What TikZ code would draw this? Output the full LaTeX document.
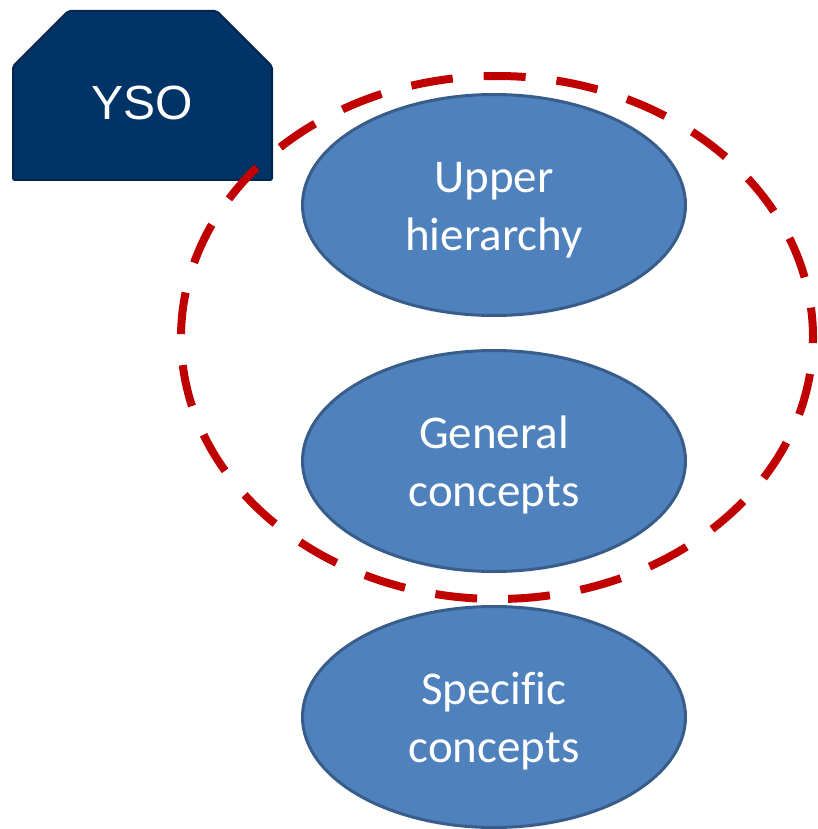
\documentclass[tikz,border=0pt]{standalone}
\usepackage{fontspec}
\setmainfont[Ligatures=NoCommon]{Carlito}
\newfontfamily\arialfont{Liberation Sans}
\usetikzlibrary{shapes.geometric,shapes.misc}
\definecolor{ysofill}{HTML}{003366}
\definecolor{ysoborder}{HTML}{00264D}
\definecolor{levelfill}{HTML}{4F81BD}
\definecolor{levelborder}{HTML}{385D8A}
\definecolor{coreborder}{HTML}{C00000}
\tikzset
{
  vocabulary/.style={chamfered rectangle,chamfered rectangle corners={north west,north east},
    chamfered rectangle xsep=28pt,chamfered rectangle ysep=28pt,rounded corners=2pt,
    fill=ysofill,draw=ysoborder,line width=2pt,minimum width=259pt,minimum height=169pt,
    text=white,font=\arialfont\fontsize{48}{56}\selectfont,text height=48pt,text depth=0pt},
  level/.style={ellipse,fill=levelfill,draw=levelborder,line width=3pt,inner sep=0pt,
    minimum width=383pt,minimum height=221pt,text=white,align=center,
    font=\fontsize{47}{58}\selectfont,text height=100pt,text depth=10pt},
  core/.style={ellipse,draw=coreborder,line width=8pt,dash pattern=on 42pt off 31pt,
    dash phase=12pt,inner sep=0pt,minimum width=632pt,minimum height=523pt}
}

\begin{document}
\begin{tikzpicture}[x=1pt,y=-1pt]
  \useasboundingbox (0,0) rectangle (817,829);
  % thesaurus box
  \node[vocabulary] (yso) at (142.5,95.5) {YSO};
  % levels
  \node[level] (upper)    at (494,205) {Upper\\hierarchy};
  \node[level] (general)  at (494,461) {General\\concepts};
  \node[level] (specific) at (494,717) {Specific\\concepts};
  % core of the ontology
  \node[core] (core) at (497,337.5) {};
\end{tikzpicture}
\end{document}
